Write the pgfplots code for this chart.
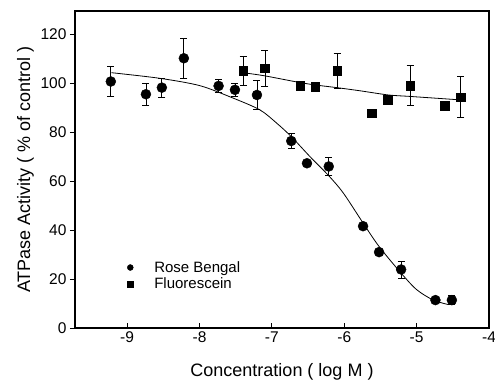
\documentclass[border=0pt]{standalone}
\usepackage{fontspec}
\setmainfont{Liberation Sans}
\usepackage{pgfplots}
\pgfplotsset{compat=1.18}
\pgfplotsset{
  mylegimg/.style={legend image code/.code={\path[draw=none,fill=none] (-4pt,0pt) -- (22pt,0pt);
    \draw[##1, mark size=3pt] plot coordinates {(0pt,0pt)};}}
}
\begin{document}
\begin{tikzpicture}
\begin{axis}[
  scale only axis,
  width=414pt, height=317pt,
  xmin=-9.72, xmax=-4, ymin=0, ymax=129.5,
  xtick={-9,-8,-7,-6,-5,-4},
  ytick={0,20,40,60,80,100,120},
  tick pos=left,
  xtick align=inside, ytick align=outside,
  major tick length=5pt,
  axis line style={line width=1.3pt},
  every tick/.style={line width=1pt, black},
  /pgf/number format/assume math mode=true,
  tick label style={font=\fontsize{15.5}{18}\selectfont},
  label style={font=\fontsize{18}{21}\selectfont},
  xlabel style={yshift=-14pt},
  xlabel={Concentration ( log M )},
  ylabel={ATPase Activity ( \% of control )},
  legend style={draw=none, fill=none, at={(0.121,0.165)}, anchor=west,
    font=\fontsize{15}{18}\selectfont, row sep=0pt, inner sep=1pt},
  legend cell align=left,
  mylegimg,
]
\addplot[black, line width=0.8pt, smooth, forget plot] coordinates {
(-9.216,104.3) (-8.548,102.0) (-7.995,99.0) (-7.534,93.9) (-7.165,89.1)
(-6.934,83.7) (-6.732,78.2) (-6.473,70.0) (-6.214,62.2) (-6.012,55.1)
(-5.740,42.9) (-5.519,33.3) (-5.214,22.4) (-4.997,15.6) (-4.768,11.4) (-4.565,9.6)
};
\addplot[black, line width=0.8pt, smooth, forget plot] coordinates {
(-7.35,104.1) (-7.096,103.0) (-6.635,100.4) (-6.404,99.3) (-6.104,98.2)
(-5.78,96.9) (-5.39,95.2) (-5.09,94.6) (-4.40,93.2)
};
\addplot[only marks, mark=*, mark size=5pt, black,
  error bars/.cd, y dir=both, y explicit,
  error bar style={line width=0.8pt, black},
  error mark options={rotate=90, mark size=3.5pt, line width=0.8pt, black}]
coordinates {
(-9.225,100.7) +- (0,6.0)
(-8.74,95.5) +- (0,4.4)
(-8.52,98.2) +- (0,3.9)
(-8.216,110.2) +- (0,8.1)
(-7.736,98.9) +- (0,2.5)
(-7.51,97.3) +- (0,2.6)
(-7.206,95.2) +- (0,5.8)
(-6.732,76.4) +- (0,2.9)
(-6.515,67.3) +- (0,0)
(-6.214,66.0) +- (0,3.8)
(-5.74,41.6) +- (0,0)
(-5.519,31.0) +- (0,0)
(-5.214,23.9) +- (0,3.5)
(-4.74,11.4) +- (0,0)
(-4.513,11.4) +- (0,1.8)
};
\addlegendentry{Rose Bengal}
\addplot[only marks, mark=square*, mark size=4.3pt, black,
  error bars/.cd, y dir=both, y explicit,
  error bar style={line width=0.8pt, black},
  error mark options={rotate=90, mark size=3.5pt, line width=0.8pt, black}]
coordinates {
(-7.396,105.0) +- (0,5.8)
(-7.096,106.1) +- (0,7.5)
(-6.61,99.0) +- (0,0)
(-6.40,98.5) +- (0,0)
(-6.10,105.0) +- (0,7.0)
(-5.62,87.8) +- (0,0)
(-5.40,93.2) +- (0,1.5)
(-5.09,99.0) +- (0,8.1)
(-4.615,90.9) +- (0,0)
(-4.39,94.3) +- (0,8.3)
};
\addlegendentry{Fluorescein}
\end{axis}
\pgfresetboundingbox
\path (current axis.south west) ++(-75pt,-53pt) rectangle ++(495pt,381pt);
\end{tikzpicture}
\end{document}
